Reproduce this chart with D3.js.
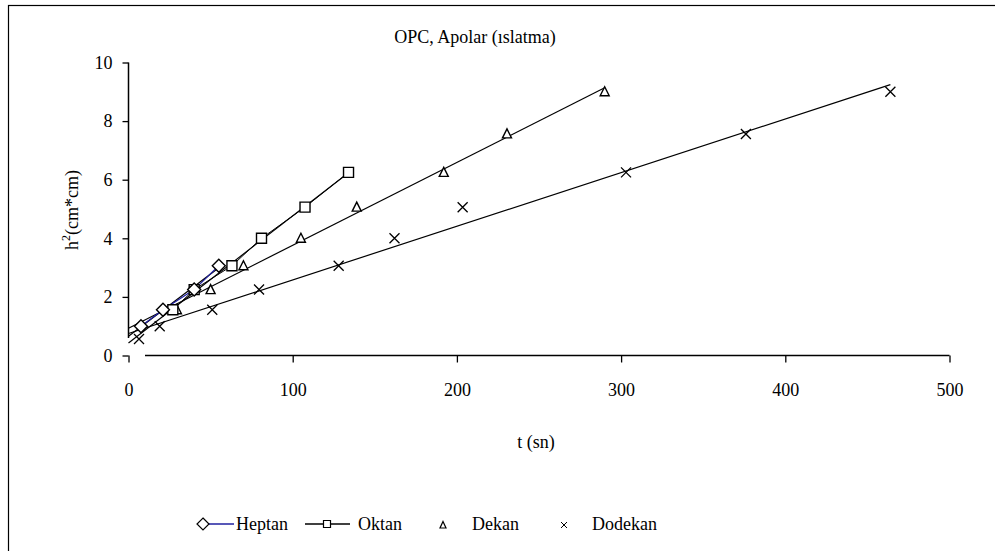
<!DOCTYPE html>
<html><head><meta charset="utf-8">
<script src="https://cdn.jsdelivr.net/npm/d3@7"></script>
<style>body{margin:0;background:#fff;}text{font-family:"Liberation Serif","Times New Roman",serif;}</style>
</head><body>
<svg id="c" width="995" height="551"></svg>
<script>
const title = "OPC, Apolar (ıslatma)";
const xTicks = [0, 100, 200, 300, 400, 500];
const yTicks = [0, 2, 4, 6, 8, 10];
const heptanT = [7.6, 21, 40, 55];
const heptanH = [1, 1.5625, 2.25, 3.0625];
const oktanT = [27, 40, 63, 81, 107.5, 134];
const oktanH = [1.5625, 2.25, 3.0625, 4, 5.0625, 6.25];
const dekanT = [29.5, 50, 70, 105, 139, 192, 230.5, 290];
const dekanH = [1.5625, 2.25, 3.0625, 4, 5.0625, 6.25, 7.5625, 9];
const dodekanT = [6.4, 19, 51, 79.5, 128, 162, 203.5, 303, 376, 464];
const dodekanH = [0.5625, 1, 1.5625, 2.25, 3.0625, 4, 5.0625, 6.25, 7.5625, 9];
const seriesNames = ["Heptan", "Oktan", "Dekan", "Dodekan"];

const FONT = "'Liberation Serif', 'Times New Roman', serif";
const FS = 18;
const svg = d3.select("#c");
const x = d3.scaleLinear().domain([0, 500]).range([128.5, 949.5]);
const y = d3.scaleLinear().domain([0, 10]).range([355.5, 62.5]);

svg.append("rect").attr("x", 8.5).attr("y", 5.5).attr("width", 1000).attr("height", 600)
  .attr("fill", "#fff").attr("stroke", "#000").attr("stroke-width", 1.2);

function txt(g, xx, yy, s, anchor) {
  return g.append("text").attr("x", xx).attr("y", yy).attr("text-anchor", anchor || "start")
    .style("font-family", FONT).attr("font-size", FS).attr("fill", "#000").text(s);
}
txt(svg, 475, 43, title, "middle");

const gx = svg.append("g").attr("transform", "translate(0,355.5)")
  .call(d3.axisBottom(x).tickValues(xTicks).tickSize(7).tickSizeOuter(0).tickPadding(18));
const gy = svg.append("g").attr("transform", "translate(128.5,0)")
  .call(d3.axisLeft(y).tickValues(yTicks).tickSize(6).tickSizeOuter(0).tickPadding(10));
[gx, gy].forEach(g => {
  g.attr("font-family", null).attr("font-size", FS);
  g.select(".domain").remove();
  g.selectAll("text").attr("font-size", FS).style("font-family", FONT).attr("fill", "#000");
  g.selectAll("line").attr("stroke", "#000").attr("stroke-width", 1.3);
});
gx.selectAll("text").attr("dy", "0.85em");
svg.append("line").attr("x1", 145).attr("x2", x(500)).attr("y1", 355.5).attr("y2", 355.5)
  .attr("stroke", "#000").attr("stroke-width", 1.5);
svg.append("line").attr("x1", 128.5).attr("x2", 128.5).attr("y1", y(10)).attr("y2", 338)
  .attr("stroke", "#000").attr("stroke-width", 1.5);

txt(svg, 536, 448, "t (sn)", "middle");
const yl = svg.append("text").attr("transform", "translate(78,210) rotate(-90)")
  .attr("text-anchor", "middle").style("font-family", FONT).attr("font-size", FS);
yl.append("tspan").text("h");
yl.append("tspan").attr("dy", -8).attr("font-size", 12).text("2");
yl.append("tspan").attr("dy", 8).text("(cm*cm)");

function fit(ts, hs) {
  const n = ts.length, mx = d3.mean(ts), my = d3.mean(hs);
  let sxy = 0, sxx = 0;
  for (let i = 0; i < n; i++) { sxy += (ts[i]-mx)*(hs[i]-my); sxx += (ts[i]-mx)**2; }
  const b = sxy / sxx; return {b, a: my - b*mx};
}
const plot = svg.append("g");
const line = d3.line().x(d => x(d[0])).y(d => y(d[1]));
function trend(ts, hs) {
  const f = fit(ts, hs), tmax = d3.max(ts);
  plot.append("path").attr("d", line([[0, f.a], [tmax, f.a + f.b*tmax]]))
    .attr("fill", "none").attr("stroke", "#000").attr("stroke-width", 1.2);
}
trend(dodekanT, dodekanH);
trend(dekanT, dekanH);
trend(oktanT, oktanH);
trend(heptanT, heptanH);

plot.append("path").attr("d", line(oktanT.map((t,i)=>[t, oktanH[i]])))
  .attr("fill","none").attr("stroke","#000").attr("stroke-width",1);
plot.append("path").attr("d", line(heptanT.map((t,i)=>[t, heptanH[i]])))
  .attr("fill","none").attr("stroke","#2020a0").attr("stroke-width",1.2);

const shapes = {
  Heptan: "M0,-6.5L6.5,0L0,6.5L-6.5,0Z",
  Oktan: "M-5,-5H5V5H-5Z",
  Dekan: "M0,-5L4.5,4H-4.5Z",
  Dodekan: "M-5,-5L5,5M-5,5L5,-5"
};
function markers(name, ts, hs) {
  const g = plot.append("g");
  ts.forEach((t, i) => {
    const p = g.append("path").attr("d", shapes[name])
      .attr("transform", `translate(${x(t)},${y(hs[i])})`);
    if (name === "Dodekan") p.attr("stroke", "#000").attr("stroke-width", 1.3).attr("fill", "none");
    else p.attr("fill", "#fff").attr("stroke", "#000").attr("stroke-width", 1.4);
  });
}
markers("Dodekan", dodekanT, dodekanH);
markers("Dekan", dekanT, dekanH);
markers("Oktan", oktanT, oktanH);
markers("Heptan", heptanT, heptanH);

const lg = svg.append("g").attr("transform", "translate(0,524)");
lg.append("line").attr("x1", 205).attr("x2", 234).attr("y1", 0).attr("y2", 0).attr("stroke", "#2020a0").attr("stroke-width", 1.5);
lg.append("path").attr("d", "M0,-6L6,0L0,6L-6,0Z").attr("transform", "translate(203,0)").attr("fill", "#fff").attr("stroke", "#000").attr("stroke-width", 1.2);
txt(lg, 236, 6, seriesNames[0]);
lg.append("line").attr("x1", 305).attr("x2", 350).attr("y1", 0).attr("y2", 0).attr("stroke", "#000").attr("stroke-width", 1.5);
lg.append("path").attr("d", "M-3.5,-3.5H3.5V3.5H-3.5Z").attr("transform", "translate(327,0)").attr("fill", "#fff").attr("stroke", "#000").attr("stroke-width", 1.2);
txt(lg, 358, 6, seriesNames[1]);
lg.append("path").attr("d", "M0,-3.5L3,3H-3Z").attr("transform", "translate(443,1)").attr("fill", "#fff").attr("stroke", "#000").attr("stroke-width", 1.2);
txt(lg, 472, 6, seriesNames[2]);
lg.append("path").attr("d", "M-3,-3L3,3M-3,3L3,-3").attr("transform", "translate(564,1)").attr("stroke", "#000").attr("stroke-width", 1);
txt(lg, 592, 6, seriesNames[3]);
</script>
</body></html>
